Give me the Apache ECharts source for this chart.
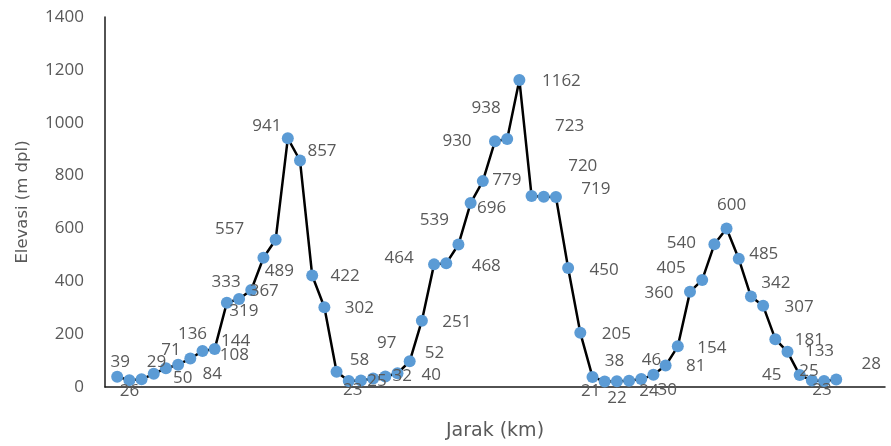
<!DOCTYPE html>
<html>
<head>
<meta charset="utf-8">
<script src="https://cdn.jsdelivr.net/npm/echarts@6/dist/echarts.min.js"></script>
<style>
  html, body { margin: 0; padding: 0; background: #ffffff; }
  #chart { width: 891px; height: 446px; }
</style>
</head>
<body>
<div id="chart"></div>
<script>
// Elevation (m dpl) of each survey point along the route, in order of distance
const elevations = [
  39, 26, 29, 50, 71, 84, 108, 136, 144, 319, 333, 367, 489, 557, 941, 857, 422, 302, 58,
  23, 25, 32, 40, 52, 97, 251, 464, 468, 539, 696, 779, 930, 938, 1162, 723, 720, 719, 450, 205,
  38, 21, 22, 24, 30, 46, 81, 154, 360, 405, 540, 600, 485, 342, 307, 181, 133, 45, 25, 23, 28
];
// Y-axis ticks
const yTicks = [0, 200, 400, 600, 800, 1000, 1200, 1400];
const yTitle = 'Elevasi (m dpl)';
const xTitle = 'Jarak (km)';

// Hand-placed label nudges (px) so the value labels sit clear of the line
const labelNudge = [
  [3,-15],[0,11],[15,-17],[29,4],[5,-18],[34,9],[44,-3],[-10,-17],[21,-8],[17,8],
  [-13,-17],[13,1],[16,13],[-46,-11],[-21,-12],[22,-9],[33,1],[35,1],[23,-12],[4,9],
  [16,1],[29,-2],[46,-1],[37,-20],[-23,-18],[35,1],[-35,-6],[40,3],[-24,-24],[21,5],
  [24,-1],[-38,0],[-21,-31],[42,1],[38,-70],[39,-31],[40,-8],[36,2],[36,1],[22,-16],
  [-14,10],[0,17],[20,10],[26,11],[-2,-15],[30,1],[34,2],[-31,1],[-31,-12],[-33,-1],
  [5,-23],[25,-5],[25,-13],[36,1],[34,1],[32,-1],[-28,0],[-3,-9],[-2,9],[35,-15]
];

const textColor = '#595959';
const font = '"Open Sans", sans-serif';
const titleFont = '"DejaVu Sans", sans-serif';

const seriesData = elevations.map((v, i) => ({
  value: [i + 1, v],
  label: { offset: labelNudge[i] }
}));

const chart = echarts.init(document.getElementById('chart'), null, { renderer: 'canvas' });
chart.setOption({
  animation: false,
  backgroundColor: '#ffffff',
  grid: { left: 105, right: 6, top: 17, bottom: 57 },
  xAxis: {
    type: 'value',
    min: 0,
    max: 64,
    name: xTitle,
    nameLocation: 'middle',
    nameGap: 35,
    nameTextStyle: { color: textColor, fontSize: 19, fontFamily: titleFont },
    axisLine: { show: true, lineStyle: { color: '#1a1a1a', width: 1.5 } },
    axisTick: { show: false },
    axisLabel: { show: false },
    splitLine: { show: false }
  },
  yAxis: {
    type: 'value',
    min: yTicks[0],
    max: yTicks[yTicks.length - 1],
    interval: 200,
    name: yTitle,
    nameLocation: 'middle',
    nameGap: 74,
    nameTextStyle: { color: textColor, fontSize: 16.5, fontFamily: titleFont },
    axisLine: { show: true, lineStyle: { color: '#1a1a1a', width: 1.5 } },
    axisTick: { show: false },
    axisLabel: {
      color: textColor, fontSize: 17, fontFamily: font, margin: 21,
      formatter: v => String(v)
    },
    splitLine: { show: false }
  },
  series: [{
    type: 'line',
    data: seriesData,
    symbol: 'circle',
    symbolSize: 12,
    lineStyle: { color: '#000000', width: 2.5 },
    itemStyle: { color: '#5B9BD5' },
    label: {
      show: true,
      position: 'inside',
      color: textColor,
      fontSize: 17,
      fontFamily: font,
      formatter: p => p.value[1]
    },
    z: 3
  }]
});
</script>
</body>
</html>
